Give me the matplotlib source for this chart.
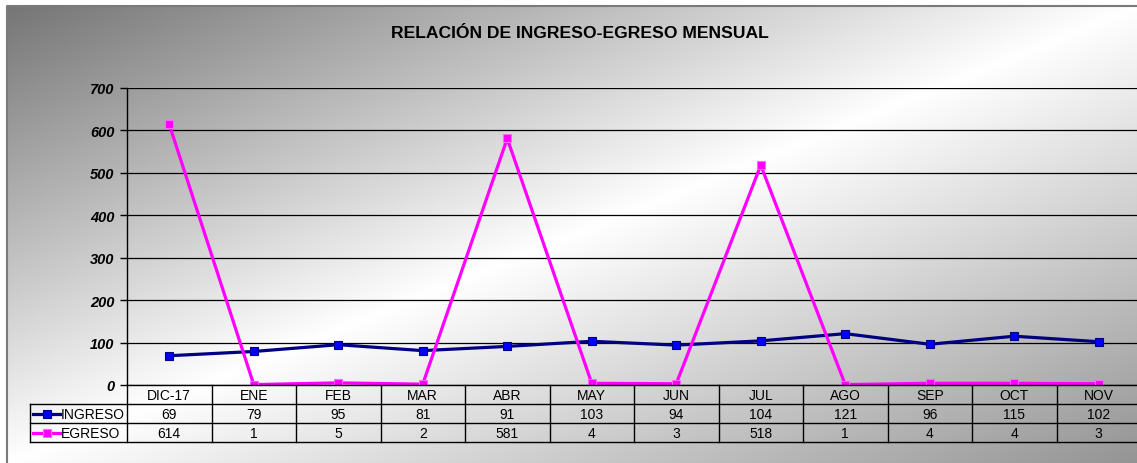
import numpy as np
import matplotlib
matplotlib.use("Agg")
from matplotlib import pyplot as plt
from matplotlib.transforms import blended_transform_factory

plt.rcParams["font.family"] = ["Liberation Sans", "DejaVu Sans"]

months = ["DIC-17", "ENE", "FEB", "MAR", "ABR", "MAY", "JUN", "JUL", "AGO", "SEP", "OCT", "NOV"]
ingreso = [69, 79, 95, 81, 91, 103, 94, 104, 121, 96, 115, 102]
egreso = [614, 1, 5, 2, 581, 4, 3, 518, 1, 4, 4, 3]

W, H = 1137, 464
fig = plt.figure(figsize=(W / 100, H / 100), dpi=100)


def fx(px):
    return px / W


def fy(py):
    return 1 - py / H


# gradient background of the chart frame
bg = fig.add_axes([0, 0, 1, 1], zorder=0)
xx, yy = np.meshgrid(np.arange(W), np.arange(H))
u = (xx - 7) / (W - 7) + (yy - 7) / (H - 7) - 1.0
gray = np.where(u < 0, 1 - 0.54 * (-u), 1 - 0.42 * u)
gray = np.clip(gray, 0, 1)
img = np.dstack([gray, gray, gray])
img[:7, :, :] = 1
img[:, :7, :] = 1
bg.imshow(img, extent=[0, W, H, 0], aspect="auto", interpolation="bilinear")
bg.plot([7, 7, W], [H, 7, 7], color="#7a7a7a", lw=1.5)
bg.set_xlim(0, W)
bg.set_ylim(H, 0)
bg.axis("off")

fig.text(fx(580), fy(33), "RELACIÓN DE INGRESO-EGRESO MENSUAL", ha="center", va="center",
         fontsize=12.6, fontweight="bold")

x = np.arange(len(months))
ax = fig.add_axes([fx(127), fy(386), fx(1141) - fx(127), fy(89) - fy(386)], zorder=1)
ax.patch.set_alpha(0)
ax.plot(x, ingreso, color="#000080", lw=2.3, marker="s", ms=6,
        mfc="#0000ff", mec="#000080", mew=0.8, zorder=3)
ax.plot(x, egreso, color="#ff00ff", lw=2.3, marker="s", ms=6,
        mfc="#ff00ff", mec="#ff66ff", mew=0.8, zorder=3)
ax.set_xlim(-0.5, len(months) - 0.5)
ax.set_ylim(0, 700)
ax.set_yticks(range(0, 701, 100))
ax.set_xticks([])
ax.yaxis.grid(True, color="black", lw=0.9)
ax.set_axisbelow(True)
for s in ["top", "right", "bottom"]:
    ax.spines[s].set_visible(False)
ax.spines["left"].set_linewidth(1.0)
ax.tick_params(axis="y", length=5, width=1, pad=4)
for lab in ax.get_yticklabels():
    lab.set_fontweight("bold")
    lab.set_fontstyle("italic")
    lab.set_fontsize(10.5)

# data table below the plot
tr = blended_transform_factory(ax.transData, fig.transFigure)
row_y = [386, 405, 424, 443]
lk = dict(transform=fig.transFigure, color="black", lw=1, clip_on=False)
for py in row_y:
    x0 = 127 if py == 386 else 30
    fig.add_artist(plt.Line2D([fx(x0), 1], [fy(py), fy(py)], **lk))
for b in np.arange(-0.5, len(months), 1.0):
    ax.plot([b, b], [fy(386), fy(443)], transform=tr, color="black", lw=1, clip_on=False)
fig.add_artist(plt.Line2D([fx(30), fx(30)], [fy(405), fy(443)], **lk))

fs = 10
for i, m in enumerate(months):
    ax.text(i, fy(396), m, transform=tr, ha="center", va="center", fontsize=fs)
    ax.text(i, fy(415), str(ingreso[i]), transform=tr, ha="center", va="center", fontsize=fs)
    ax.text(i, fy(434), str(egreso[i]), transform=tr, ha="center", va="center", fontsize=fs)

# legend keys inside table
for py, name, lc, fc, ec in [(415, "INGRESO", "#000080", "#0000ff", "#000080"),
                             (434, "EGRESO", "#ff00ff", "#ff00ff", "#ff66ff")]:
    fig.add_artist(plt.Line2D([fx(33), fx(60)], [fy(py), fy(py)], transform=fig.transFigure,
                              color=lc, lw=2.3))
    fig.add_artist(plt.Line2D([fx(46.5)], [fy(py)], transform=fig.transFigure, marker="s",
                              ms=6, mfc=fc, mec=ec, mew=0.8, lw=0))
    fig.text(fx(61), fy(py), name, ha="left", va="center", fontsize=fs)

plt.savefig("out.png", dpi=100)
